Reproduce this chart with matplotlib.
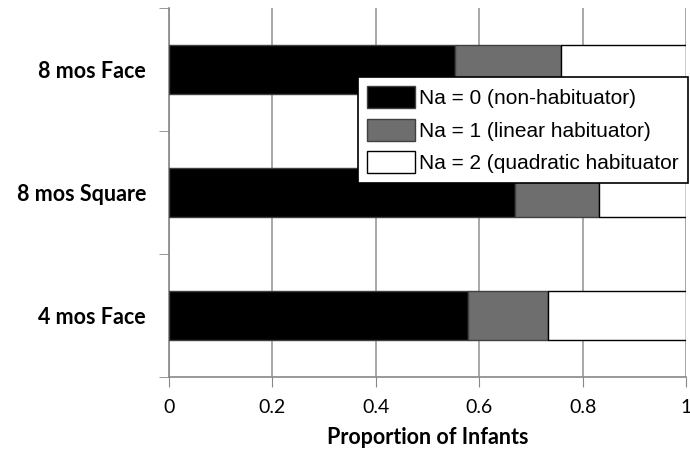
import matplotlib
matplotlib.use("Agg")
import matplotlib.pyplot as plt
import numpy as np

categories = ["4 mos Face", "8 mos Square", "8 mos Face"]
na0 = [0.578, 0.669, 0.553]
na1 = [0.156, 0.163, 0.205]
na2 = [0.266, 0.168, 0.242]
series_labels = ["Na = 0 (non-habituator)", "Na = 1 (linear habituator)", "Na = 2 (quadratic habituator"]
xticks = [0, 0.2, 0.4, 0.6, 0.8, 1]
xticklabels = ["0", "0.2", "0.4", "0.6", "0.8", "1"]

fig = plt.figure(figsize=(6.9, 4.62), dpi=100)
ax = fig.add_axes([169/690, 1 - 377/462, (686-169)/690, (377-8)/462])

y = np.arange(len(categories))
h = 0.4
left = np.zeros(len(categories))
colors = ["#000000", "#6e6e6e", "#ffffff"]
edges = ["#404040", "#404040", "#000000"]
handles = []
for vals, c, e, lab in zip([na0, na1, na2], colors, edges, series_labels):
    b = ax.barh(y, vals, left=left, height=h, color=c, edgecolor=e, linewidth=1.0, label=lab, zorder=3)
    handles.append(b)
    left = left + np.array(vals)

ax.set_xlim(0, 1)
ax.set_ylim(-0.5, 2.5)
ax.set_xticks(xticks)
ax.set_xticklabels(xticklabels, fontfamily="Lato", fontsize=14)
ax.set_yticks(y)
ax.set_yticklabels(categories, fontfamily="Lato", fontweight="bold", fontsize=15.5)
ax.set_yticks([-0.5, 0.5, 1.5, 2.5], minor=True)
ax.tick_params(axis="y", which="major", length=0, pad=16.5)
ax.tick_params(axis="y", which="minor", length=7, color="#888888", direction="out")
ax.tick_params(axis="x", which="major", length=7, color="#888888", direction="out", pad=9)
ax.grid(axis="x", color="#999999", linewidth=1.2, zorder=0)
ax.set_axisbelow(True)
for s in ["top", "right"]:
    ax.spines[s].set_visible(False)
for s in ["left", "bottom"]:
    ax.spines[s].set_color("#888888")
    ax.spines[s].set_linewidth(1.2)

ax.set_xlabel("Proportion of Infants", fontfamily="Lato", fontweight="bold", fontsize=15.5, labelpad=8)

leg = fig.legend(handles=handles, labels=series_labels, loc="upper left",
                 bbox_to_anchor=(358/690, 1 - 77/462), bbox_transform=fig.transFigure,
                 prop={"family": "Liberation Sans", "size": 15},
                 frameon=True, fancybox=False, edgecolor="#000000", framealpha=1,
                 handlelength=2.3, handleheight=1.25, labelspacing=0.5,
                 handletextpad=0.2, borderpad=0.45, borderaxespad=0)
leg.get_frame().set_linewidth(1.2)
leg.set_zorder(10)

fig.savefig("out.png", dpi=100)
